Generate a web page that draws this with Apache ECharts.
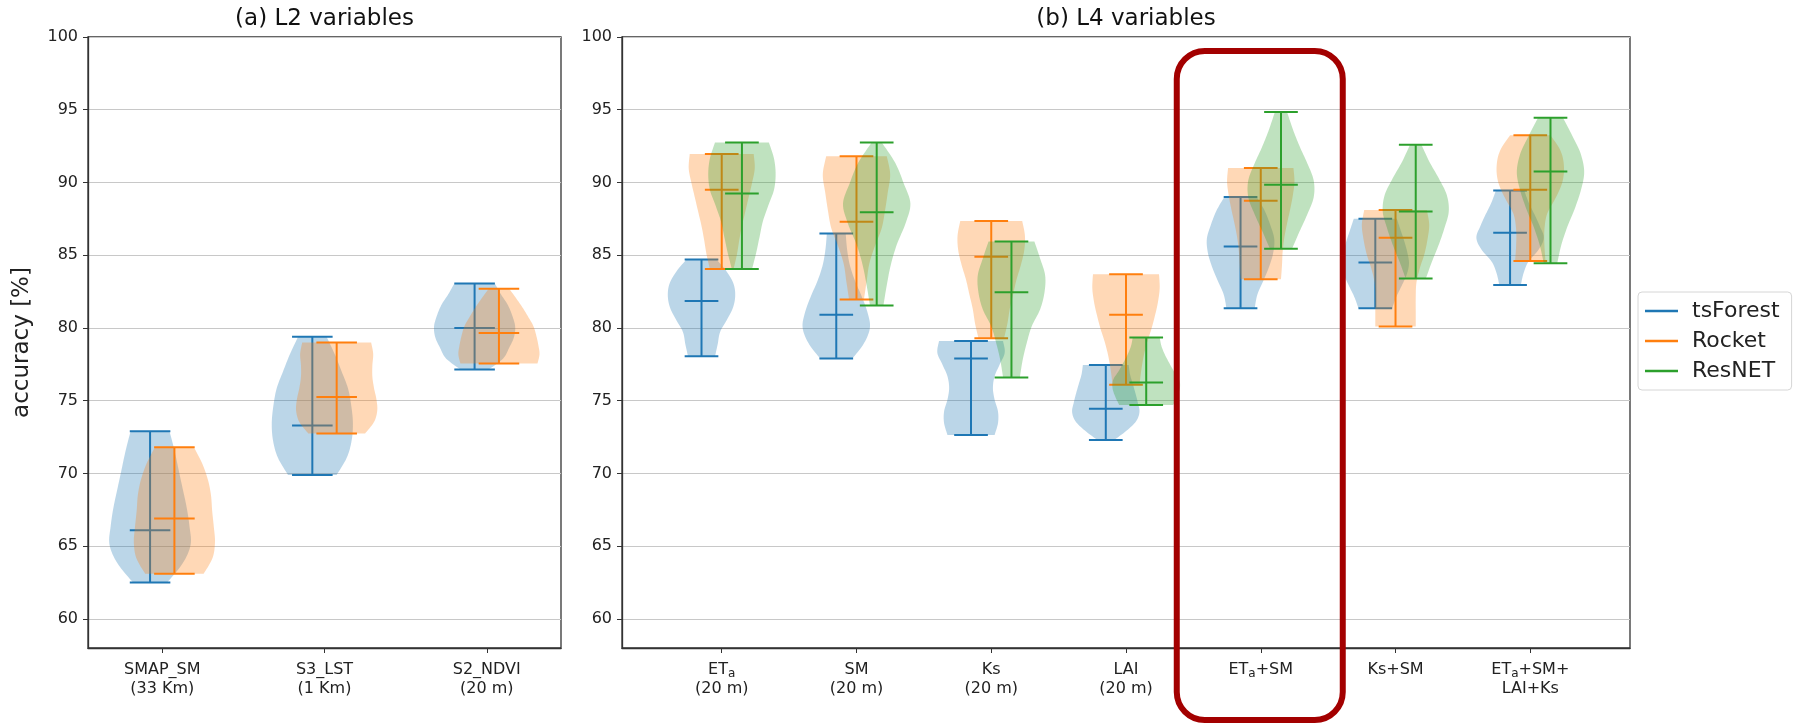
<!DOCTYPE html>
<html>
<head>
<meta charset="utf-8">
<script src="https://cdn.jsdelivr.net/npm/echarts@6.0.0/dist/echarts.min.js"></script>
<style>
  html, body { margin: 0; padding: 0; background: #fff; }
  #chart { width: 1804px; height: 725px; }
</style>
</head>
<body>
<div id="chart"></div>
<script>
// categories / tick labels
const l2Labels = ['SMAP_SM\n(33 Km)', 'S3_LST\n(1 Km)', 'S2_NDVI\n(20 m)']
const l4Labels = [
  '{n|ET}{s|a}\n{n|(20 m)}',
  'SM\n(20 m)',
  'Ks\n(20 m)',
  'LAI\n(20 m)',
  '{n|ET}{s|a}{n|+SM}',
  'Ks+SM',
  '{n|ET}{s|a}{n|+SM+}\n{n|LAI+Ks}'
]
const models = ['tsForest', 'Rocket', 'ResNET']
const yTicks = [60, 65, 70, 75, 80, 85, 90, 95, 100]

// [min, median, max] per category
const l2TsForest = [[62.5, 66.1, 72.9], [69.9, 73.3, 79.4], [77.15, 80.0, 83.05]]
const l2Rocket = [[63.1, 66.9, 71.8], [72.75, 75.25, 79.0], [77.55, 79.65, 82.7]]
const l4TsForest = [[78.05, 81.85, 84.7], [77.9, 80.9, 86.5], [72.65, 77.9, 79.1], [72.3, 74.45, 77.45],
  [81.35, 85.6, 89.0], [81.35, 84.5, 87.5], [82.95, 86.55, 89.45]]
const l4Rocket = [[84.05, 89.5, 91.95], [81.95, 87.3, 91.8], [79.3, 84.9, 87.35], [76.1, 80.9, 83.7],
  [83.35, 88.75, 91.0], [80.1, 86.2, 88.1], [84.6, 89.5, 93.25]]
const l4ResNET = [[84.05, 89.25, 92.75], [81.55, 87.95, 92.75], [76.6, 82.45, 85.95], [74.7, 76.25, 79.35],
  [85.45, 89.85, 94.85], [83.4, 88.0, 92.6], [84.45, 90.75, 94.45]]

// relative violin widths, 9 steps from min to max
const l2TsForestShape = [
  [0.42, 0.8, 1.0, 0.97, 0.9, 0.8, 0.7, 0.6, 0.48],
  [0.6, 0.85, 0.97, 1.0, 0.96, 0.88, 0.72, 0.55, 0.35],
  [0.35, 0.7, 0.85, 0.97, 1.0, 0.93, 0.82, 0.65, 0.5]
]
const l2RocketShape = [
  [0.72, 0.94, 1.0, 0.97, 0.93, 0.9, 0.82, 0.68, 0.48],
  [0.7, 0.92, 1.0, 0.98, 0.92, 0.88, 0.88, 0.9, 0.85],
  [0.95, 1.0, 0.97, 0.92, 0.85, 0.72, 0.58, 0.42, 0.25]
]
const l4TsForestShape = [
  [0.4, 0.48, 0.55, 0.75, 0.93, 1.0, 0.95, 0.75, 0.45],
  [0.48, 0.83, 1.0, 0.92, 0.75, 0.55, 0.4, 0.32, 0.28],
  [0.7, 0.8, 0.8, 0.7, 0.65, 0.7, 0.85, 1.0, 0.95],
  [0.25, 0.62, 0.9, 1.0, 0.95, 0.88, 0.8, 0.72, 0.68],
  [0.42, 0.5, 0.68, 0.85, 0.97, 1.0, 0.88, 0.72, 0.48],
  [0.5, 0.62, 0.78, 0.93, 1.0, 0.95, 0.86, 0.75, 0.64],
  [0.32, 0.4, 0.55, 0.85, 1.0, 0.88, 0.72, 0.55, 0.42]
]
const l4RocketShape = [
  [0.35, 0.45, 0.52, 0.6, 0.7, 0.8, 0.9, 0.98, 0.95],
  [0.22, 0.3, 0.38, 0.55, 0.75, 0.85, 0.93, 1.0, 0.9],
  [0.38, 0.48, 0.55, 0.65, 0.75, 0.88, 0.98, 1.0, 0.92],
  [0.4, 0.45, 0.52, 0.62, 0.75, 0.86, 0.95, 1.0, 0.98],
  [0.6, 0.63, 0.65, 0.7, 0.78, 0.87, 0.95, 1.0, 0.97],
  [0.6, 0.6, 0.6, 0.62, 0.72, 0.86, 0.95, 1.0, 0.93],
  [0.45, 0.42, 0.42, 0.5, 0.75, 0.95, 1.0, 0.9, 0.6]
]
const l4ResNETShape = [
  [0.3, 0.42, 0.52, 0.62, 0.78, 0.95, 1.0, 0.95, 0.8],
  [0.2, 0.3, 0.42, 0.6, 0.85, 1.0, 0.8, 0.55, 0.15],
  [0.25, 0.33, 0.45, 0.6, 0.85, 0.98, 1.0, 0.85, 0.68],
  [0.8, 0.92, 1.0, 0.98, 0.82, 0.68, 0.55, 0.45, 0.4],
  [0.33, 0.55, 0.78, 0.97, 0.97, 0.78, 0.55, 0.35, 0.18],
  [0.3, 0.48, 0.68, 0.85, 0.98, 0.92, 0.68, 0.4, 0.17],
  [0.2, 0.32, 0.5, 0.72, 0.9, 1.0, 0.9, 0.65, 0.37]
]

const colors = { tsForest: '#1f77b4', Rocket: '#ff7f0e', ResNET: '#2ca02c' }
const fills = { tsForest: 'rgba(31,119,180,0.3)', Rocket: 'rgba(255,127,14,0.3)', ResNET: 'rgba(44,160,44,0.3)' }
const FONT = 'DejaVu Sans'
const HALF_WIDTH = 0.25 // violin widths = 0.5
const CAP = 0.125

const gridA = { left: 88, top: 37, width: 473, height: 611 }
const gridB = { left: 622, top: 37, width: 1008, height: 611 }

const chart = echarts.init(document.getElementById('chart'), null, { renderer: 'canvas' })

// catmull-rom through the outline points, drawing only
const spline = (pts) => {
  const out = []
  const n = pts.length
  for (let i = 0; i < n - 1; i++) {
    const p0 = pts[Math.max(i - 1, 0)]
    const p1 = pts[i]
    const p2 = pts[i + 1]
    const p3 = pts[Math.min(i + 2, n - 1)]
    for (let s = 0; s < 8; s++) {
      const t = s / 8
      const t2 = t * t
      const t3 = t2 * t
      const f = (a, b, c, d) => 0.5 * (2 * b + (-a + c) * t + (2 * a - 5 * b + 4 * c - d) * t2 + (-a + 3 * b - 3 * c + d) * t3)
      out.push([f(p0[0], p1[0], p2[0], p3[0]), f(p0[1], p1[1], p2[1], p3[1])])
    }
  }
  out.push(pts[n - 1])
  return out
}

const renderViolin = (params, api) => {
  const x = api.value(0)
  const lo = api.value(1)
  const med = api.value(2)
  const hi = api.value(3)
  const n = 9
  const right = []
  const left = []
  for (let k = 0; k < n; k++) {
    const y = lo + (hi - lo) * k / (n - 1)
    const w = api.value(4 + k) * HALF_WIDTH
    right.push(api.coord([x + w, y]))
    left.push(api.coord([x - w, y]))
  }
  const outline = spline(right).concat(spline(left).reverse())
  const name = params.seriesName
  const lineStyle = { stroke: colors[name], lineWidth: 2 }
  const hline = (v) => {
    const a = api.coord([x - CAP, v])
    const b = api.coord([x + CAP, v])
    return { type: 'line', shape: { x1: a[0], y1: a[1], x2: b[0], y2: b[1] }, style: lineStyle }
  }
  const top = api.coord([x, hi])
  const bot = api.coord([x, lo])
  return {
    type: 'group',
    children: [
      { type: 'polygon', shape: { points: outline }, style: { fill: fills[name], stroke: null } },
      { type: 'line', shape: { x1: top[0], y1: top[1], x2: bot[0], y2: bot[1] }, style: lineStyle },
      hline(lo),
      hline(hi),
      hline(med)
    ]
  }
}

const buildData = (stats, shapes, offset) =>
  stats.map((s, i) => [i + 1 + offset, s[0], s[1], s[2]].concat(shapes[i]))

const makeSeries = (name, stats, shapes, offset, gridIndex) => ({
  type: 'custom',
  name,
  xAxisIndex: gridIndex,
  yAxisIndex: gridIndex,
  renderItem: renderViolin,
  itemStyle: { color: colors[name] },
  encode: { x: 0, y: [1, 3] },
  data: buildData(stats, shapes, offset),
  animation: false,
  silent: true
})

const yAxisBase = (gridIndex) => ({
  type: 'value',
  gridIndex,
  min: 58,
  max: 100,
  axisLine: { show: true, lineStyle: { color: '#333', width: 1.3 } },
  axisTick: { show: true, inside: false, length: 5, customValues: yTicks, lineStyle: { color: '#333' } },
  axisLabel: { customValues: yTicks, color: '#222', fontSize: 16, fontFamily: FONT, margin: 10 },
  splitLine: { show: true, lineStyle: { color: '#c8c8c8', width: 1.2 } }
})

const richLabel = {
  n: { fontSize: 16, fontFamily: FONT, color: '#222', lineHeight: 19 },
  s: { fontSize: 12, fontFamily: FONT, color: '#222', lineHeight: 19, padding: [9, 0, 0, 0] }
}

const xAxisBase = (gridIndex, min, max, labels) => {
  const ticks = labels.map((_, i) => i + 1)
  return {
    type: 'value',
    gridIndex,
    min,
    max,
    axisLine: { show: true, onZero: false, lineStyle: { color: '#333', width: 1.3 } },
    axisTick: { show: true, length: 5, customValues: ticks, lineStyle: { color: '#333' } },
    axisLabel: {
      customValues: ticks,
      formatter: (v) => labels[Math.round(v) - 1],
      color: '#222',
      fontSize: 16,
      fontFamily: FONT,
      lineHeight: 19,
      margin: 12,
      rich: richLabel
    },
    splitLine: { show: false }
  }
}

const option = {
  backgroundColor: '#fff',
  animation: false,
  textStyle: { fontFamily: FONT },
  grid: [
    Object.assign({ show: true, borderColor: '#333', borderWidth: 1.3, backgroundColor: 'transparent' }, gridA),
    Object.assign({ show: true, borderColor: '#333', borderWidth: 1.3, backgroundColor: 'transparent' }, gridB)
  ],
  xAxis: [
    xAxisBase(0, 0.5425, 3.4575, l2Labels),
    xAxisBase(1, 0.26, 7.74, l4Labels)
  ],
  yAxis: [
    Object.assign(yAxisBase(0), {
      name: 'accuracy [%]',
      nameLocation: 'middle',
      nameGap: 54,
      nameRotate: 90,
      nameTextStyle: { fontSize: 23, fontFamily: FONT, color: '#222' }
    }),
    yAxisBase(1)
  ],
  legend: {
    data: models,
    orient: 'vertical',
    left: 1638,
    top: 292,
    icon: 'rect',
    itemWidth: 33,
    itemHeight: 2.5,
    itemGap: 8,
    padding: [8, 12, 8, 7],
    backgroundColor: '#fff',
    borderColor: '#d6d6d6',
    borderWidth: 1,
    borderRadius: 4,
    textStyle: { fontSize: 22, fontFamily: FONT, color: '#222', padding: [0, 0, 0, 9] }
  },
  series: [
    makeSeries('tsForest', l2TsForest, l2TsForestShape, -0.075, 0),
    makeSeries('Rocket', l2Rocket, l2RocketShape, 0.075, 0),
    makeSeries('tsForest', l4TsForest, l4TsForestShape, -0.15, 1),
    makeSeries('Rocket', l4Rocket, l4RocketShape, 0, 1),
    makeSeries('ResNET', l4ResNET, l4ResNETShape, 0.15, 1)
  ]
}

chart.setOption(option)

// titles and the highlight box around ETa+SM
const boxCenter = chart.convertToPixel({ xAxisIndex: 1, yAxisIndex: 1 }, [5, 100])
chart.setOption({
  graphic: [
    {
      type: 'text',
      x: gridA.left + gridA.width / 2,
      y: 8,
      style: { text: '(a) L2 variables', fontSize: 23, fontFamily: FONT, fill: '#111', textAlign: 'center' }
    },
    {
      type: 'text',
      x: gridB.left + gridB.width / 2,
      y: 8,
      style: { text: '(b) L4 variables', fontSize: 23, fontFamily: FONT, fill: '#111', textAlign: 'center' }
    },
    {
      type: 'rect',
      z: 100,
      shape: { x: boxCenter[0] - 84, y: 51, width: 166, height: 669, r: 28 },
      style: { fill: null, stroke: '#a30000', lineWidth: 6 }
    }
  ]
})

window.addEventListener('resize', () => chart.resize())
</script>
</body>
</html>
